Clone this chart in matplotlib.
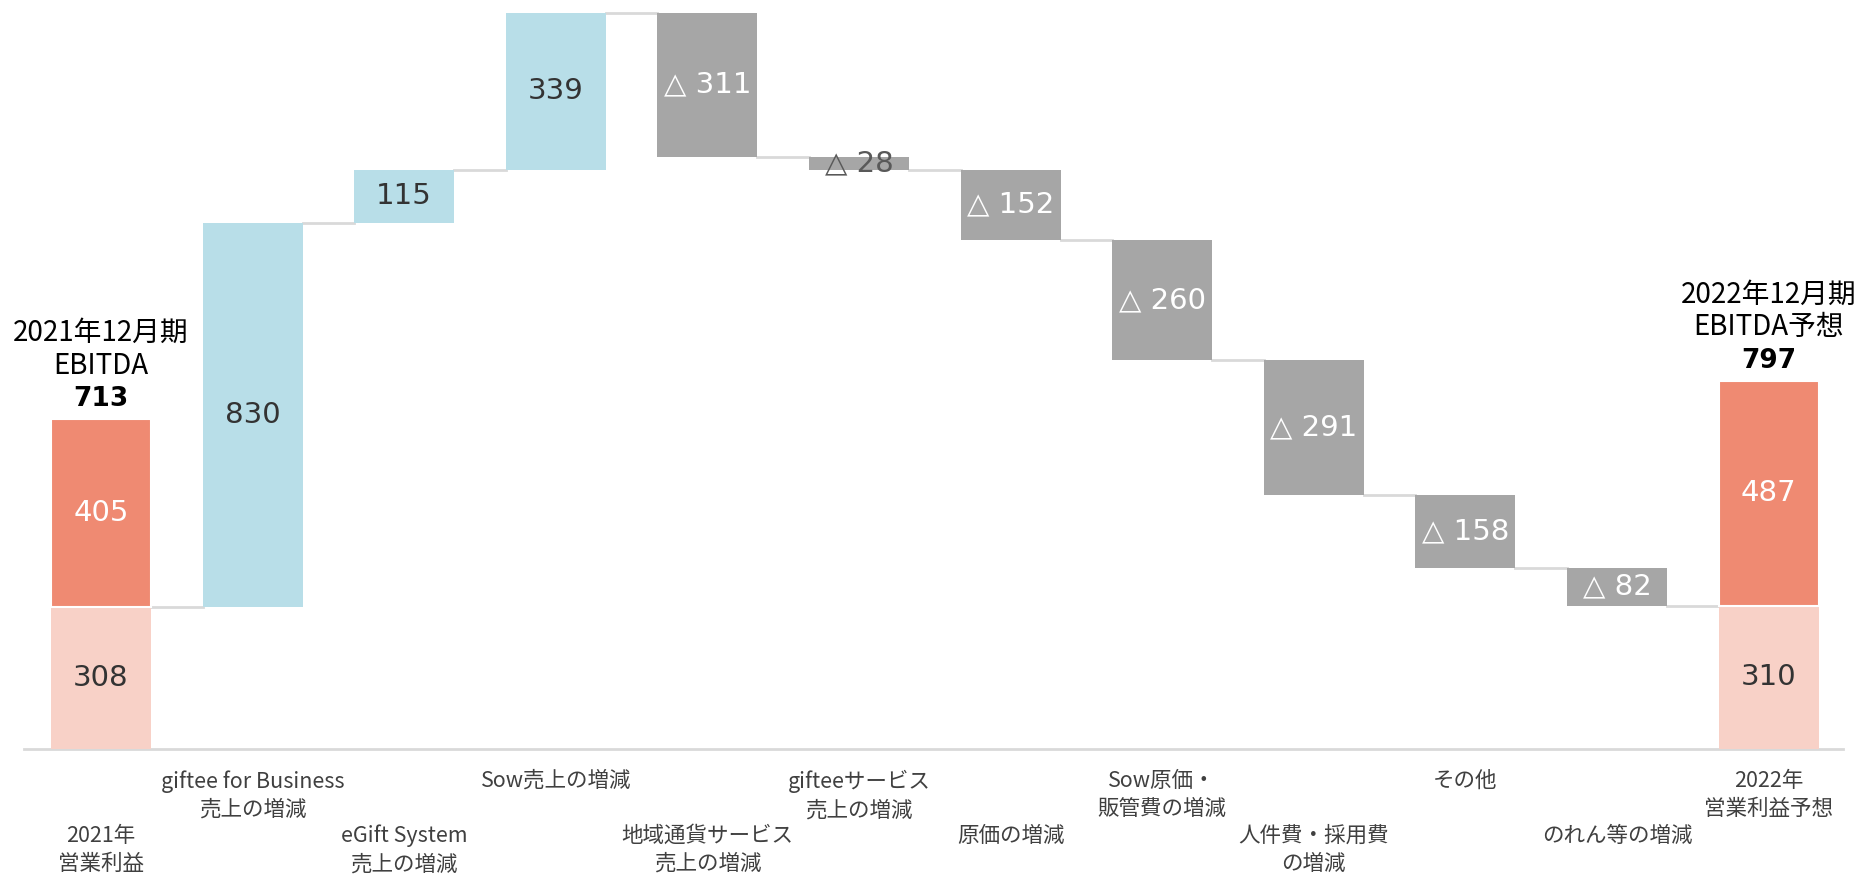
import numpy as np
import matplotlib.pyplot as plt

plt.rcParams['font.family'] = ['Noto Sans CJK JP', 'DejaVu Sans']

# data
labels = ["2021年\n営業利益", "giftee for Business\n売上の増減", "eGift System\n売上の増減",
          "Sow売上の増減", "地域通貨サービス\n売上の増減", "gifteeサービス\n売上の増減",
          "原価の増減", "Sow原価・\n販管費の増減", "人件費・採用費\nの増減", "その他",
          "のれん等の増減", "2022年\n営業利益予想"]
op_start = 308   # 2021 operating profit
da_start = 405   # add-back part of 2021 EBITDA
op_end = 310     # 2022 operating profit forecast
da_end = 487     # add-back part of 2022 EBITDA
deltas = [830, 115, 339, -311, -28, -152, -260, -291, -158, -82]
titles = ["2021年12月期\nEBITDA", "2022年12月期\nEBITDA予想"]
ebitda = [713, 797]

orange = '#EF8A72'
pink = '#F8D1C7'
blue = '#B8DEE8'
gray = '#A6A6A6'
line_c = '#D9D9D9'

fig = plt.figure(figsize=(18.58, 8.74), dpi=100)
ax = fig.add_axes([0, 0, 1, 1])
ax.set_xlim(-0.666, 11.59)
ax.set_ylim(-270, 1620)
ax.axis('off')

w = 0.66
d = np.array(deltas)
after = op_start + np.cumsum(d)
before = np.concatenate([[op_start], after[:-1]])
bottoms = np.minimum(before, after)
heights = np.abs(d)
xs = np.arange(1, len(d) + 1)

# baseline
ax.plot([-0.51, 11.49], [0, 0], color=line_c, lw=2, zorder=1)

# end bars
last = len(d) + 1
for xi, op, da in [(0, op_start, da_start), (last, op_end, da_end)]:
    ax.bar(xi, op, w, color=pink, zorder=2)
    ax.bar(xi, da, w, bottom=op, color=orange, edgecolor='white', lw=1.5, zorder=3)
    ax.text(xi, op / 2, str(op), ha='center', va='center', fontsize=21,
            family=['DejaVu Sans'], color='#333333', zorder=4)
    ax.text(xi, op + da / 2, str(da), ha='center', va='center', fontsize=21,
            family=['DejaVu Sans'], color='white', zorder=4)

# floating bars
cols = [blue if v > 0 else gray for v in d]
ax.bar(xs, heights, w, bottom=bottoms, color=cols, zorder=2)
for xi, b, h, v in zip(xs, bottoms, heights, d):
    if v > 0:
        s, c = str(v), '#333333'
    else:
        s, c = '△ ' + str(-v), 'white'
    if h < 60:
        c = '#595959'
    ax.text(xi, b + h / 2, s, ha='center', va='center', fontsize=21,
            family=['DejaVu Sans'], color=c, zorder=4)

# connectors
levels = np.concatenate([[op_start], after])
for i in range(last):
    ax.plot([i + w / 2, i + 1 - w / 2], [levels[i], levels[i]],
            color=line_c, lw=2, zorder=1)

# EBITDA titles above end bars
for xi, t, e in zip([0, last], titles, ebitda):
    ax.annotate(str(e), xy=(xi, e), xytext=(0, 5), textcoords='offset points',
                ha='center', va='bottom', fontsize=19, fontweight='bold',
                family=['DejaVu Sans'], color='black')
    ax.annotate(t, xy=(xi, e), xytext=(0, 28), textcoords='offset points',
                ha='center', va='bottom', fontsize=20, color='black', linespacing=1.1)

# category labels, staggered
for i, lab in enumerate(labels):
    y = -45 if i % 2 == 1 else -163
    ax.text(i, y, lab, ha='center', va='top', fontsize=15.5, color='#404040', linespacing=1.35)

fig.savefig('out.png', dpi=100)
